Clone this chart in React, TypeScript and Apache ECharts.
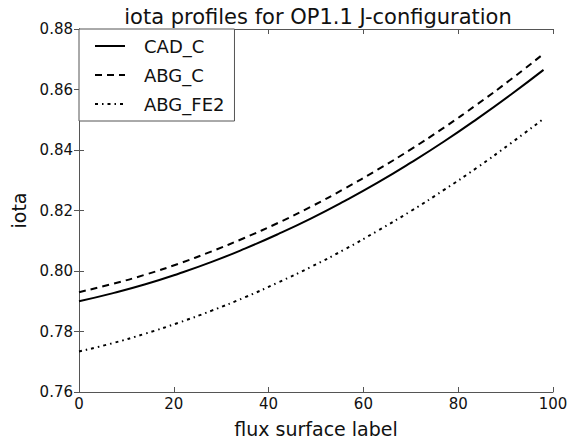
import React, { useEffect, useRef } from "react";
import * as echarts from "echarts";

const TITLE = "iota profiles for OP1.1 J-configuration";
const X_NAME = "flux surface label";
const Y_NAME = "iota";
const SERIES_NAMES = ["CAD_C", "ABG_C", "ABG_FE2"];

const xs = [0, 7, 14, 21, 28, 35, 42, 49, 56, 63, 70, 77, 84, 91, 98];
const cadC = [0.79, 0.7926, 0.7956, 0.7991, 0.803, 0.8074, 0.8122, 0.8174, 0.8231, 0.8292, 0.8358, 0.8428, 0.8503, 0.8582, 0.8665];
const abgC = [0.793, 0.7957, 0.7988, 0.8024, 0.8065, 0.811, 0.8159, 0.8213, 0.8272, 0.8335, 0.8402, 0.8474, 0.8551, 0.8632, 0.8718];
const abgFe2 = [0.7734, 0.7761, 0.7793, 0.7829, 0.7869, 0.7913, 0.7962, 0.8014, 0.8071, 0.8133, 0.8198, 0.8268, 0.8342, 0.8421, 0.8503];

const X_MIN = 0;
const X_MAX = 100;
const X_STEP = 20;
const Y_MIN = 0.76;
const Y_MAX = 0.88;
const Y_STEP = 0.02;

const FONT = "DejaVu Sans";
const INK = "#111";
const FRAME = "#555";

export default function App() {
  const ref = useRef<HTMLDivElement | null>(null);

  useEffect(() => {
    if (!ref.current) return;
    const chart = echarts.init(ref.current, null, { renderer: "svg" });
    const pairs = (ys: number[]) => xs.map((x, i) => [x, ys[i]]);
    const frameAxis = {
      axisLine: { show: true, lineStyle: { color: FRAME, width: 1 } },
      axisTick: { show: true, inside: true, length: 5, lineStyle: { color: FRAME } },
      splitLine: { show: false },
    };
    chart.setOption({
      animation: false,
      backgroundColor: "#fff",
      title: {
        text: TITLE,
        left: 313,
        top: 1,
        textAlign: "center",
        textStyle: { fontFamily: FONT, fontSize: 21, fontWeight: "normal", color: INK },
      },
      legend: {
        orient: "vertical",
        left: 79,
        top: 29,
        padding: [8, 10, 8, 15],
        itemGap: 11,
        itemWidth: 30,
        itemHeight: 14,
        borderColor: FRAME,
        borderWidth: 1,
        borderRadius: 0,
        backgroundColor: "#fff",
        itemStyle: { color: "rgba(0,0,0,0)", borderWidth: 0, opacity: 0 },
        textStyle: { fontFamily: FONT, fontSize: 18, color: INK, padding: [0, 0, 0, 14] },
        data: SERIES_NAMES,
      },
      grid: { left: 79, right: 23, top: 29, bottom: 47, containLabel: false },
      xAxis: [
        {
          type: "value",
          min: X_MIN,
          max: X_MAX,
          interval: X_STEP,
          name: X_NAME,
          nameLocation: "middle",
          nameGap: 27,
          nameTextStyle: { fontFamily: FONT, fontSize: 19, color: INK },
          axisLabel: { fontFamily: FONT, fontSize: 15, color: INK, margin: 4 },
          ...frameAxis,
        },
        {
          type: "value",
          position: "top",
          min: X_MIN,
          max: X_MAX,
          interval: X_STEP,
          axisLabel: { show: false },
          ...frameAxis,
        },
      ],
      yAxis: [
        {
          type: "value",
          min: Y_MIN,
          max: Y_MAX,
          interval: Y_STEP,
          name: Y_NAME,
          nameLocation: "middle",
          nameGap: 42,
          nameTextStyle: { fontFamily: FONT, fontSize: 19, color: INK },
          axisLabel: {
            fontFamily: FONT,
            fontSize: 15,
            color: INK,
            margin: 6,
            formatter: (v: number) => v.toFixed(2),
          },
          ...frameAxis,
        },
        {
          type: "value",
          position: "right",
          min: Y_MIN,
          max: Y_MAX,
          interval: Y_STEP,
          axisLabel: { show: false },
          ...frameAxis,
        },
      ],
      series: [
        {
          name: SERIES_NAMES[0],
          type: "line",
          data: pairs(cadC),
          smooth: true,
          symbol: "none",
          lineStyle: { color: "#000", width: 2, type: "solid" },
          itemStyle: { color: "#000" },
        },
        {
          name: SERIES_NAMES[1],
          type: "line",
          data: pairs(abgC),
          smooth: true,
          symbol: "none",
          lineStyle: { color: "#000", width: 2, type: [7, 5] },
          itemStyle: { color: "#000" },
        },
        {
          name: SERIES_NAMES[2],
          type: "line",
          data: pairs(abgFe2),
          smooth: true,
          symbol: "none",
          lineStyle: { color: "#000", width: 2, type: [3, 4, 1.5, 4] },
          itemStyle: { color: "#000" },
        },
      ],
    });
    return () => chart.dispose();
  }, []);

  return (
    <div
      ref={ref}
      style={{ position: "fixed", left: 0, top: 0, width: 576, height: 443, background: "#fff" }}
    />
  );
}
